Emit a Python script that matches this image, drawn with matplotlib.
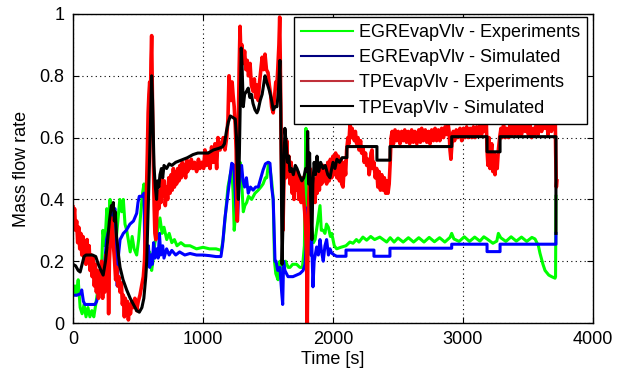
import numpy as np
import matplotlib
matplotlib.use("Agg")
import matplotlib.pyplot as plt
from matplotlib.lines import Line2D

plt.rcParams["font.family"] = ["Liberation Sans", "DejaVu Sans"]

# ---- data: (time [s], mass flow rate) ----
egr_exp = [
    (0, .10), (15, .12), (25, .09), (40, .14), (55, .05), (70, .03), (85, .06), (100, .02),
    (115, .05), (130, .02), (145, .04), (160, .02), (175, .06), (185, .09), (200, .13),
    (215, .12), (230, .30), (245, .25), (260, .37), (270, .29), (285, .40), (295, .33),
    (310, .25), (320, .34), (330, .26), (345, .33), (360, .40), (375, .36), (387, .40),
    (400, .32), (413, .30), (425, .27), (440, .23), (455, .28), (470, .24), (490, .22),
    (505, .27), (520, .35), (535, .42), (546, .45), (552, .36), (556, .15), (565, .21),
    (577, .19), (590, .23), (605, .17), (615, .20), (630, .26), (643, .28), (655, .31),
    (669, .34), (685, .29), (700, .31), (721, .27), (740, .29), (760, .26), (780, .27),
    (800, .25), (830, .26), (860, .25), (900, .25), (950, .24), (1000, .245), (1050, .24),
    (1100, .24), (1140, .235), (1155, .27), (1175, .36), (1192, .44), (1210, .48), (1221, .50),
    (1232, .42), (1240, .30), (1250, .35), (1259, .40), (1272, .47), (1285, .52), (1298, .45),
    (1310, .36), (1322, .38), (1336, .39), (1350, .41), (1374, .40), (1400, .42), (1425, .43),
    (1445, .44), (1462, .45), (1480, .47), (1490, .47), (1505, .52), (1515, .50), (1528, .46),
    (1540, .40), (1550, .20), (1560, .16), (1577, .14), (1592, .20), (1605, .17), (1615, .17),
    (1635, .20), (1655, .18), (1669, .18), (1690, .19), (1720, .19), (1745, .18), (1765, .18),
    (1780, .25), (1792, .63), (1798, .30), (1810, .29), (1825, .33), (1836, .31), (1850, .26),
    (1862, .27), (1880, .32), (1900, .38), (1910, .30), (1925, .30), (1938, .29), (1950, .32),
    (1964, .31), (1980, .28), (1990, .29), (2010, .25), (2028, .24), (2060, .245), (2100, .25),
    (2130, .262), (2154, .258), (2180, .27), (2200, .262), (2230, .278), (2259, .268),
    (2290, .28), (2320, .27), (2360, .278), (2413, .262), (2440, .276), (2470, .262),
    (2500, .275), (2540, .262), (2580, .276), (2620, .262), (2660, .276), (2700, .262),
    (2740, .277), (2780, .263), (2820, .276), (2860, .262), (2900, .277), (2913, .29),
    (2930, .272), (2970, .264), (3010, .279), (3050, .264), (3090, .278), (3130, .265),
    (3160, .279), (3185, .272), (3230, .258), (3260, .265), (3272, .29), (3290, .276),
    (3330, .264), (3370, .279), (3410, .265), (3450, .278), (3490, .264), (3530, .277),
    (3554, .272), (3580, .25), (3592, .226), (3615, .19), (3631, .17), (3660, .155),
    (3682, .15), (3708, .145), (3712, .15), (3715, .41),
]

egr_sim = [
    (0, .09), (30, .09), (60, .095), (67, .107), (80, .07), (92, .06), (140, .06), (169, .06),
    (182, .07), (200, .10), (215, .11), (231, .18), (245, .20), (258, .27), (269, .29),
    (280, .31), (297, .34), (310, .36), (323, .37), (330, .30), (340, .12), (350, .22),
    (362, .27), (375, .28), (387, .29), (410, .30), (438, .32), (465, .33), (490, .355),
    (500, .39), (510, .41), (530, .41), (546, .42), (554, .17), (562, .21), (570, .19),
    (580, .25), (590, .18), (600, .22), (610, .19), (620, .26), (630, .21), (643, .24),
    (655, .21), (665, .29), (675, .22), (690, .25), (700, .21), (720, .24), (740, .22),
    (760, .235), (790, .22), (820, .23), (860, .22), (900, .225), (950, .22), (1000, .22),
    (1050, .218), (1100, .215), (1138, .215), (1150, .25), (1169, .34), (1192, .42),
    (1210, .48), (1221, .517), (1238, .51), (1250, .40), (1259, .34), (1265, .33), (1275, .42),
    (1285, .50), (1297, .51), (1308, .46), (1320, .44), (1334, .47), (1348, .42), (1365, .44),
    (1385, .43), (1405, .44), (1425, .44), (1445, .47), (1462, .495), (1480, .515), (1500, .52),
    (1515, .517), (1528, .44), (1540, .40), (1554, .20), (1562, .20), (1575, .17), (1592, .18),
    (1605, .10), (1613, .06), (1620, .20), (1630, .17), (1654, .15), (1692, .15), (1720, .155),
    (1746, .16), (1770, .17), (1785, .19), (1800, .30), (1808, .376), (1818, .25), (1828, .22),
    (1836, .27), (1846, .117), (1855, .20), (1874, .246), (1887, .22), (1900, .27), (1912, .23),
    (1925, .20), (1938, .25), (1951, .27), (1965, .22), (1977, .24), (1990, .226), (2010, .22),
    (2028, .216), (2100, .216), (2100, .236), (2315, .236), (2315, .216), (2438, .216),
    (2438, .242), (2913, .242), (2913, .255), (3185, .255), (3185, .231), (3285, .231),
    (3285, .255), (3715, .255), (3715, .29),
]

tp_exp = [
    (0, .376), (6, .34), (12, .37), (20, .30), (28, .33), (36, .26), (44, .31), (52, .24),
    (60, .29), (68, .22), (76, .28), (84, .21), (92, .26), (100, .19), (108, .27), (116, .20),
    (124, .25), (132, .17), (140, .22), (148, .15), (156, .21), (164, .12), (172, .19),
    (180, .10), (188, .17), (196, .08), (204, .15), (212, .12), (220, .20), (228, .08),
    (236, .18), (244, .10), (252, .22), (260, .16), (268, .24), (274, .03), (280, .20),
    (288, .28), (297, .34), (305, .30), (313, .24), (320, .20), (328, .14), (336, .18),
    (344, .12), (352, .15), (362, .10), (372, .13), (380, .06), (387, .09), (395, .02),
    (402, .08), (410, .03), (418, .07), (426, .01), (434, .06), (442, .03), (452, .07),
    (464, .05), (476, .08), (490, .04), (502, .07), (515, .09), (528, .12), (541, .15),
    (550, .20), (558, .30), (565, .42), (572, .55), (578, .68), (584, .74), (590, .78),
    (596, .72), (600, .85), (605, .93), (609, .78), (614, .62), (619, .50), (624, .38),
    (630, .29), (637, .27), (645, .35), (652, .40), (660, .37), (669, .43), (677, .39),
    (685, .47), (693, .41), (702, .46), (710, .38), (720, .44), (728, .40), (737, .47),
    (746, .42), (755, .48), (763, .43), (772, .50), (780, .44), (790, .49), (797, .45),
    (806, .50), (815, .46), (823, .51), (832, .47), (841, .52), (849, .48), (858, .51),
    (866, .47), (874, .53), (882, .49), (890, .52), (900, .50), (910, .53), (923, .50),
    (935, .52), (951, .49), (965, .53), (977, .50), (990, .52), (1005, .50), (1015, .56),
    (1028, .51), (1040, .55), (1054, .50), (1066, .57), (1079, .52), (1092, .58), (1105, .50),
    (1115, .60), (1131, .56), (1145, .58), (1156, .60), (1169, .56), (1182, .60), (1192, .66),
    (1200, .80), (1208, .76), (1216, .72), (1224, .78), (1231, .74), (1240, .70), (1248, .64),
    (1255, .56), (1260, .40), (1264, .33), (1270, .60), (1278, .82), (1285, .96), (1292, .86),
    (1300, .90), (1310, .84), (1320, .88), (1330, .82), (1340, .85), (1350, .80), (1362, .84),
    (1372, .77), (1385, .75), (1395, .79), (1405, .73), (1415, .77), (1425, .72), (1435, .78),
    (1445, .82), (1455, .86), (1465, .82), (1477, .87), (1488, .82), (1500, .81), (1510, .77),
    (1520, .74), (1528, .70), (1540, .68), (1550, .73), (1560, .78), (1567, .76), (1575, .82),
    (1584, .90), (1590, .99), (1596, .80), (1602, .55), (1608, .40), (1615, .30), (1622, .45),
    (1630, .55), (1638, .47), (1644, .59), (1652, .50), (1660, .54), (1669, .45), (1678, .52),
    (1686, .42), (1692, .48), (1700, .40), (1710, .50), (1720, .43), (1728, .49), (1736, .40),
    (1746, .46), (1755, .39), (1764, .47), (1772, .41), (1782, .36), (1790, .30), (1797, .22),
    (1802, .00), (1807, .25), (1814, .40), (1822, .50), (1830, .44), (1838, .48), (1846, .40),
    (1854, .46), (1862, .39), (1870, .47), (1878, .42), (1885, .49), (1895, .43), (1905, .50),
    (1913, .45), (1922, .51), (1930, .46), (1940, .50), (1951, .45), (1960, .52), (1970, .46),
    (1980, .53), (1990, .47), (2000, .54), (2010, .48), (2020, .55), (2030, .47), (2040, .54),
    (2050, .46), (2060, .53), (2067, .45), (2077, .44), (2088, .52), (2097, .48), (2105, .56),
    (2115, .60), (2122, .58), (2131, .646), (2140, .60), (2147, .63), (2154, .61), (2165, .59),
    (2172, .62), (2182, .58), (2192, .60), (2200, .56), (2212, .59), (2220, .55), (2231, .57),
    (2240, .52), (2250, .55), (2259, .51), (2270, .53), (2278, .48), (2285, .50), (2292, .55),
    (2300, .56), (2308, .50), (2315, .52), (2325, .47), (2336, .50), (2345, .44), (2355, .49),
    (2365, .43), (2375, .48), (2385, .43), (2395, .47), (2405, .42), (2415, .46), (2423, .42),
    (2432, .45), (2440, .52), (2447, .60), (2455, .62), (2465, .58), (2477, .625), (2490, .59),
    (2502, .62), (2515, .58), (2528, .62), (2540, .59), (2552, .625), (2565, .585), (2578, .62),
    (2590, .58), (2605, .625), (2618, .585), (2630, .62), (2645, .58), (2660, .625),
    (2672, .585), (2682, .63), (2695, .59), (2710, .625), (2722, .585), (2735, .62), (2746, .58),
    (2759, .625), (2772, .59), (2785, .63), (2797, .59), (2810, .625), (2822, .59), (2836, .63),
    (2850, .60), (2862, .635), (2875, .61), (2885, .646), (2893, .62), (2900, .56), (2907, .53),
    (2915, .58), (2925, .62), (2935, .59), (2948, .625), (2960, .60), (2977, .63), (2990, .59),
    (3003, .63), (3015, .60), (3028, .635), (3040, .60), (3055, .63), (3068, .60), (3080, .635),
    (3093, .60), (3105, .635), (3118, .61), (3131, .64), (3143, .61), (3155, .64), (3168, .62),
    (3180, .64), (3185, .56), (3192, .51), (3200, .60), (3208, .50), (3215, .55), (3221, .58),
    (3230, .49), (3238, .55), (3246, .48), (3255, .54), (3263, .50), (3272, .56), (3282, .60),
    (3292, .63), (3300, .60), (3312, .64), (3325, .60), (3336, .63), (3350, .60), (3362, .64),
    (3375, .61), (3387, .65), (3400, .61), (3412, .65), (3425, .61), (3438, .65), (3450, .61),
    (3465, .65), (3478, .62), (3490, .65), (3503, .61), (3515, .64), (3528, .60), (3540, .63),
    (3552, .61), (3565, .65), (3578, .61), (3592, .66), (3605, .62), (3618, .69), (3630, .63),
    (3642, .66), (3654, .61), (3666, .66), (3680, .62), (3692, .64), (3700, .66), (3708, .72),
    (3713, .55), (3718, .44), (3722, .46),
]

tp_sim = [
    (0, .19), (20, .185), (40, .17), (55, .165), (70, .19), (85, .215), (100, .22), (150, .22),
    (175, .215), (195, .19), (215, .17), (232, .155), (250, .20), (265, .26), (280, .33),
    (295, .38), (305, .37), (310, .39), (318, .33), (325, .36), (335, .28), (350, .22),
    (362, .18), (385, .14), (413, .107), (440, .08), (465, .06), (490, .04), (510, .035),
    (530, .05), (545, .08), (560, .15), (567, .20), (577, .35), (587, .50), (596, .65),
    (605, .80), (612, .72), (618, .60), (623, .51), (633, .44), (643, .40), (650, .46),
    (660, .44), (669, .48), (680, .50), (690, .47), (700, .51), (720, .50), (740, .515),
    (760, .51), (790, .52), (820, .525), (850, .53), (880, .535), (923, .545), (960, .55),
    (1000, .55), (1040, .55), (1080, .56), (1120, .565), (1150, .57), (1165, .58), (1180, .62),
    (1195, .65), (1210, .67), (1230, .665), (1248, .66), (1258, .60), (1266, .45), (1272, .40),
    (1280, .55), (1288, .75), (1294, .89), (1300, .84), (1310, .70), (1320, .74), (1335, .75),
    (1348, .76), (1360, .73), (1372, .74), (1385, .71), (1400, .69), (1415, .68), (1425, .69),
    (1440, .72), (1455, .74), (1470, .78), (1477, .80), (1490, .78), (1505, .76), (1515, .745),
    (1528, .72), (1540, .69), (1555, .70), (1569, .70), (1580, .75), (1592, .85), (1598, .70),
    (1604, .40), (1608, .19), (1614, .30), (1622, .50), (1630, .63), (1640, .58), (1650, .52),
    (1660, .54), (1669, .49), (1680, .50), (1695, .48), (1710, .51), (1723, .50), (1740, .48),
    (1760, .46), (1775, .47), (1790, .50), (1800, .49), (1805, .62), (1812, .45), (1820, .55),
    (1828, .40), (1838, .27), (1845, .45), (1855, .52), (1865, .48), (1877, .54), (1890, .49),
    (1905, .52), (1923, .50), (1940, .51), (1960, .48), (1977, .47), (1990, .50), (2000, .52),
    (2015, .50), (2030, .53), (2050, .52), (2070, .535), (2107, .535), (2107, .571),
    (2338, .571), (2338, .527), (2438, .527), (2438, .571), (2913, .571), (2913, .603),
    (3185, .603), (3185, .554), (3285, .554), (3285, .603), (3715, .603), (3715, .29),
]

labels = ["EGREvapVlv - Experiments", "EGREvapVlv - Simulated",
          "TPEvapVlv - Experiments", "TPEvapVlv - Simulated"]
line_colors = ["#00FF00", "#0000FF", "#FF0000", "#000000"]
line_widths = [2.2, 2.2, 2.6, 2.2]
legend_colors = ["#00FF00", "#000080", "#C0303A", "#000000"]

fig = plt.figure(figsize=(6.25, 3.76), dpi=100)
ax = fig.add_axes([73 / 625, 1 - 323 / 376, 520 / 625, 309 / 376])

for data, c, w in zip([egr_exp, egr_sim, tp_exp, tp_sim], line_colors, line_widths):
    t, v = np.array(data).T
    ax.plot(t, v, color=c, lw=w)

ax.set_xlim(0, 4000)
ax.set_ylim(0, 1)
ax.set_xticks([0, 1000, 2000, 3000, 4000])
ax.set_yticks([0, 0.2, 0.4, 0.6, 0.8, 1.0])
ax.set_yticklabels(["0", "0.2", "0.4", "0.6", "0.8", "1"])
ax.grid(True, color="black", linestyle=(0, (1, 3)), linewidth=0.8)
ax.tick_params(direction="in", top=True, right=True, length=4, labelsize=13, pad=6)
for s in ax.spines.values():
    s.set_linewidth(1.0)
ax.set_xlabel("Time [s]", fontsize=13, labelpad=2)
ax.set_ylabel("Mass flow rate", fontsize=13, labelpad=7)

handles = [Line2D([0], [0], color=c, lw=1.5) for c in legend_colors]
leg = ax.legend(handles, labels, loc="upper right",
                bbox_to_anchor=(587 / 625, 1 - 17 / 376), bbox_transform=fig.transFigure,
                borderaxespad=0, fontsize=13, handlelength=2.9, handletextpad=0.3,
                labelspacing=0.45, borderpad=0.4, fancybox=False, framealpha=1)
leg.get_frame().set_edgecolor("black")
leg.get_frame().set_linewidth(1.0)

fig.savefig("out.png", dpi=100)
